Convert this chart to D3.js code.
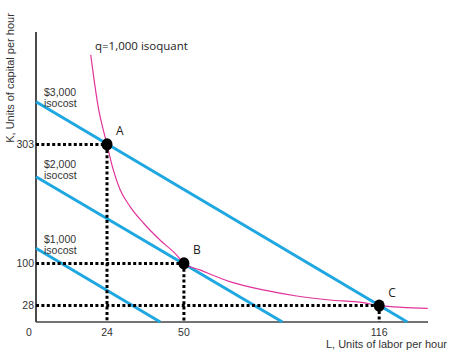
<!DOCTYPE html>
<html>
<head>
<meta charset="utf-8">
<script src="https://cdn.jsdelivr.net/npm/d3@7"></script>
<style>
  html, body { margin: 0; padding: 0; background: #fff; }
  svg { display: block; }
</style>
</head>
<body>
<svg id="chart" width="454" height="355"></svg>
<script>
// ---- data ----
const xTicks = [24, 50, 116];
const yTicks = [28, 100, 303];
const pointLabels = ["A", "B", "C"];
const pointL = [24, 50, 116];
const pointK = [303, 100, 28];
const isocostLabels = ["$3,000", "$2,000", "$1,000"];
const isocostKIntercept = [376, 248, 126];
const isocostLIntercept = [125.5, 83.3, 42];
const isoquantL = [18.5, 21.0, 24, 26.1, 28.4, 31.8, 36.3, 41.9, 47.5, 50, 55.4, 65.5, 76.8, 88.1, 99.3, 110.6, 116, 132.4];
const isoquantK = [456, 368, 303, 260, 226, 197, 169, 140, 114.5, 100, 89, 69, 54.7, 44.4, 37.6, 33, 28, 23.4];
const isoquantLabel = "q=1,000 isoquant";
const xLabel = "L, Units of labor per hour";
const yLabel = "K, Units of capital per hour";

// ---- layout ----
const svg = d3.select("#chart");
const x = d3.scaleLinear().domain([0, 132.5]).range([36, 428]);
const y = d3.scaleLinear().domain([0, 495]).range([322, 32]);

const blue = "#1ea7e0";
const magenta = "#e0349a";
const sans = "'Liberation Sans', Arial, sans-serif";
const ui = "'Open Sans', 'Noto Sans', sans-serif";

// axes
svg.append("line")
  .attr("x1", x(0)).attr("x2", x(0))
  .attr("y1", y(495)).attr("y2", y(0))
  .attr("stroke", "#111").attr("stroke-width", 1.5);
svg.append("line")
  .attr("x1", x(0)).attr("x2", x(132.5))
  .attr("y1", y(0)).attr("y2", y(0))
  .attr("stroke", "#444").attr("stroke-width", 1.5);

// isocost lines
const line = d3.line().x(d => x(d[0])).y(d => y(d[1]));
isocostLabels.forEach((lab, i) => {
  svg.append("path")
    .attr("d", line([[0, isocostKIntercept[i]], [isocostLIntercept[i], 0]]))
    .attr("stroke", blue).attr("stroke-width", 3).attr("fill", "none");
});

// isoquant
const iq = isoquantL.map((l, i) => [l, isoquantK[i]]);
svg.append("path")
  .attr("d", d3.line().x(d => x(d[0])).y(d => y(d[1])).curve(d3.curveMonotoneX)(iq))
  .attr("stroke", magenta).attr("stroke-width", 1.2).attr("fill", "none");

// dotted guide lines
pointL.forEach((l, i) => {
  const k = pointK[i];
  svg.append("line")
    .attr("x1", x(0)).attr("x2", x(l))
    .attr("y1", y(k)).attr("y2", y(k))
    .attr("stroke", "#000").attr("stroke-width", 3).attr("stroke-dasharray", "3,2.4");
  svg.append("line")
    .attr("x1", x(l)).attr("x2", x(l))
    .attr("y1", y(k)).attr("y2", y(0))
    .attr("stroke", "#000").attr("stroke-width", 3).attr("stroke-dasharray", "3,2.4");
});

// points
pointL.forEach((l, i) => {
  svg.append("ellipse")
    .attr("cx", x(l)).attr("cy", y(pointK[i]))
    .attr("rx", 5.5).attr("ry", 6.2)
    .attr("fill", "#000");
  svg.append("text")
    .attr("x", x(l) + 9).attr("y", y(pointK[i]) - 9)
    .attr("font-family", ui).attr("font-size", 12).attr("fill", "#222")
    .text(pointLabels[i]);
});

// tick labels
yTicks.forEach(t => {
  svg.append("text")
    .attr("x", x(0) - 2).attr("y", y(t)).attr("dy", "0.36em")
    .attr("text-anchor", "end")
    .attr("font-family", sans).attr("font-size", 10.5).attr("fill", "#333")
    .text(t);
});
svg.append("text")
  .attr("x", x(0) - 7).attr("y", 336)
  .attr("text-anchor", "middle")
  .attr("font-family", sans).attr("font-size", 10.5).attr("fill", "#333")
  .text(0);
xTicks.forEach(t => {
  svg.append("text")
    .attr("x", x(t)).attr("y", 336)
    .attr("text-anchor", "middle")
    .attr("font-family", sans).attr("font-size", 10.5).attr("fill", "#333")
    .text(t);
});

// isocost labels
const isoLabelY = [96, 168, 243];
isocostLabels.forEach((lab, i) => {
  const t = svg.append("text")
    .attr("x", 44).attr("y", isoLabelY[i])
    .attr("font-family", sans).attr("font-size", 10.5).attr("fill", "#333");
  t.append("tspan").attr("x", 44).text(lab);
  t.append("tspan").attr("x", 44).attr("dy", 10.5).text("isocost");
});

// isoquant label
svg.append("text")
  .attr("x", 95).attr("y", 50)
  .attr("font-family", ui).attr("font-size", 11.5).attr("fill", "#222")
  .text(isoquantLabel);

// axis titles
svg.append("text")
  .attr("x", 447).attr("y", 348)
  .attr("text-anchor", "end")
  .attr("font-family", sans).attr("font-size", 11).attr("fill", "#333")
  .text(xLabel);
svg.append("text")
  .attr("transform", "translate(14,78) rotate(-90)")
  .attr("text-anchor", "middle")
  .attr("font-family", sans).attr("font-size", 11).attr("fill", "#333")
  .text(yLabel);
</script>
</body>
</html>
